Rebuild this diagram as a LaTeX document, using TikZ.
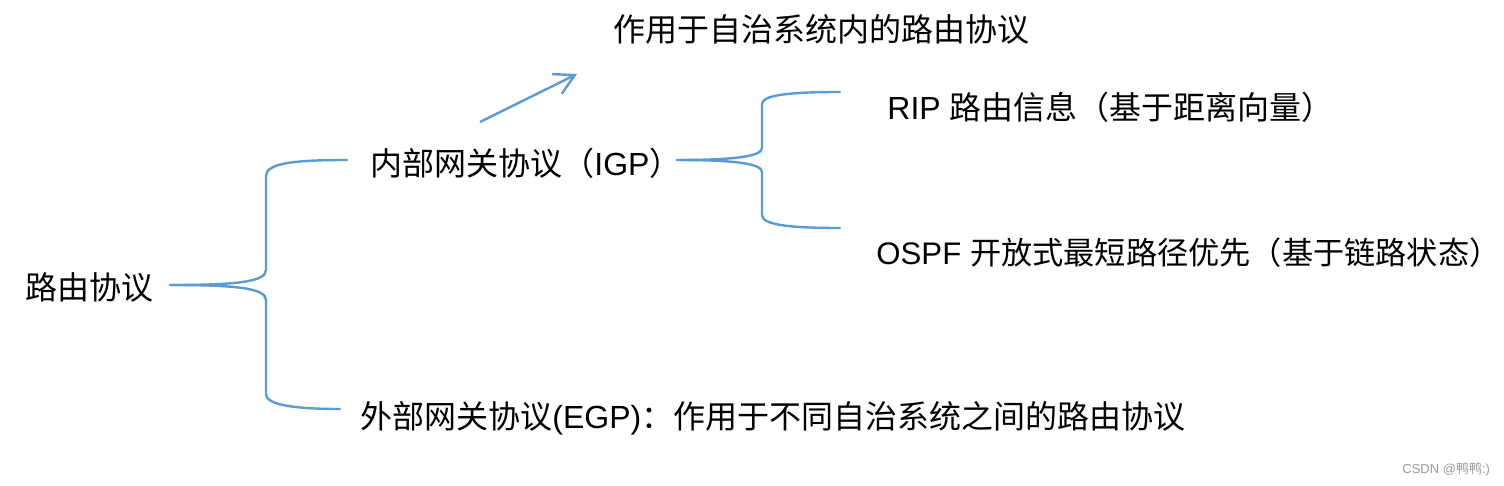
\documentclass[tikz,border=0pt]{standalone}
\usepackage{fontspec}
\setmainfont{Liberation Sans}
\newfontfamily\cjk{Noto Sans CJK SC}
\usetikzlibrary{arrows.meta}
\definecolor{lineblue}{HTML}{5B9BD5}
\definecolor{markgray}{HTML}{9A9A9A}
\tikzset{
  brace/.style={draw=lineblue, line width=1.2pt, line cap=round, line join=round},
  pointer/.style={draw=lineblue, line width=1.2pt, -{Straight Barb[length=10pt,width=11pt]}},
  label/.style={anchor=west, inner sep=0pt, text=black, font=\fontsize{16}{19}\selectfont},
  credit/.style={anchor=west, inner sep=0pt, text=markgray, font=\fontsize{6.5}{8}\selectfont}
}
\begin{document}
\begin{tikzpicture}[x=0.5pt, y=-0.5pt]
\useasboundingbox (0,0) rectangle (1504,486);
% text nodes
\node[label] (root)  at (25,287)  {\cjk 路由协议};
\node[label] (igp)   at (370,163) {{\cjk 内部网关协议（}IGP{\cjk ）}};
\node[label] (intra) at (613,29)  {\cjk 作用于自治系统内的路由协议};
\node[label] (rip)   at (887,107) {RIP {\cjk 路由信息（基于距离向量）}};
\node[label, font=\fontsize{15.6}{19}\selectfont] (ospf) at (876,253) {OSPF {\cjk 开放式最短路径优先（基于链路状态\makebox[0.5em][l]{）}}};
\node[label] (egp)   at (360,418) {{\cjk 外部网关协议}(EGP){\cjk ：作用于不同自治系统之间的路由协议}};
\node[credit] (csdn) at (1402,469) {CSDN @{\cjk 鸭鸭}:)};
% brace end points
\coordinate (t1) at (170,285);
\coordinate (e1a) at (347,160);
\coordinate (e1b) at (340,409);
\coordinate (t2) at (677,160);
\coordinate (e2a) at (840,92);
\coordinate (e2b) at (840,228);
\coordinate (a0) at (480,122);
\coordinate (a1) at (577,74);
% first brace
\draw[brace] (t1) .. controls (235,285) and (266,282) .. (266,270) -- (266,176)
  .. controls (266,163) and (295,160) .. (e1a);
\draw[brace] (t1) .. controls (235,285) and (266,288) .. (266,300) -- (266,394)
  .. controls (266,405) and (295,409) .. (e1b);
% second brace
\draw[brace] (t2) .. controls (730,160) and (762,157) .. (762,148) -- (762,104)
  .. controls (762,95) and (790,92) .. (e2a);
\draw[brace] (t2) .. controls (730,160) and (762,163) .. (762,172) -- (762,215)
  .. controls (762,225) and (790,228) .. (e2b);
% arrow
\draw[pointer] (a0) -- (a1);
\end{tikzpicture}
\end{document}
